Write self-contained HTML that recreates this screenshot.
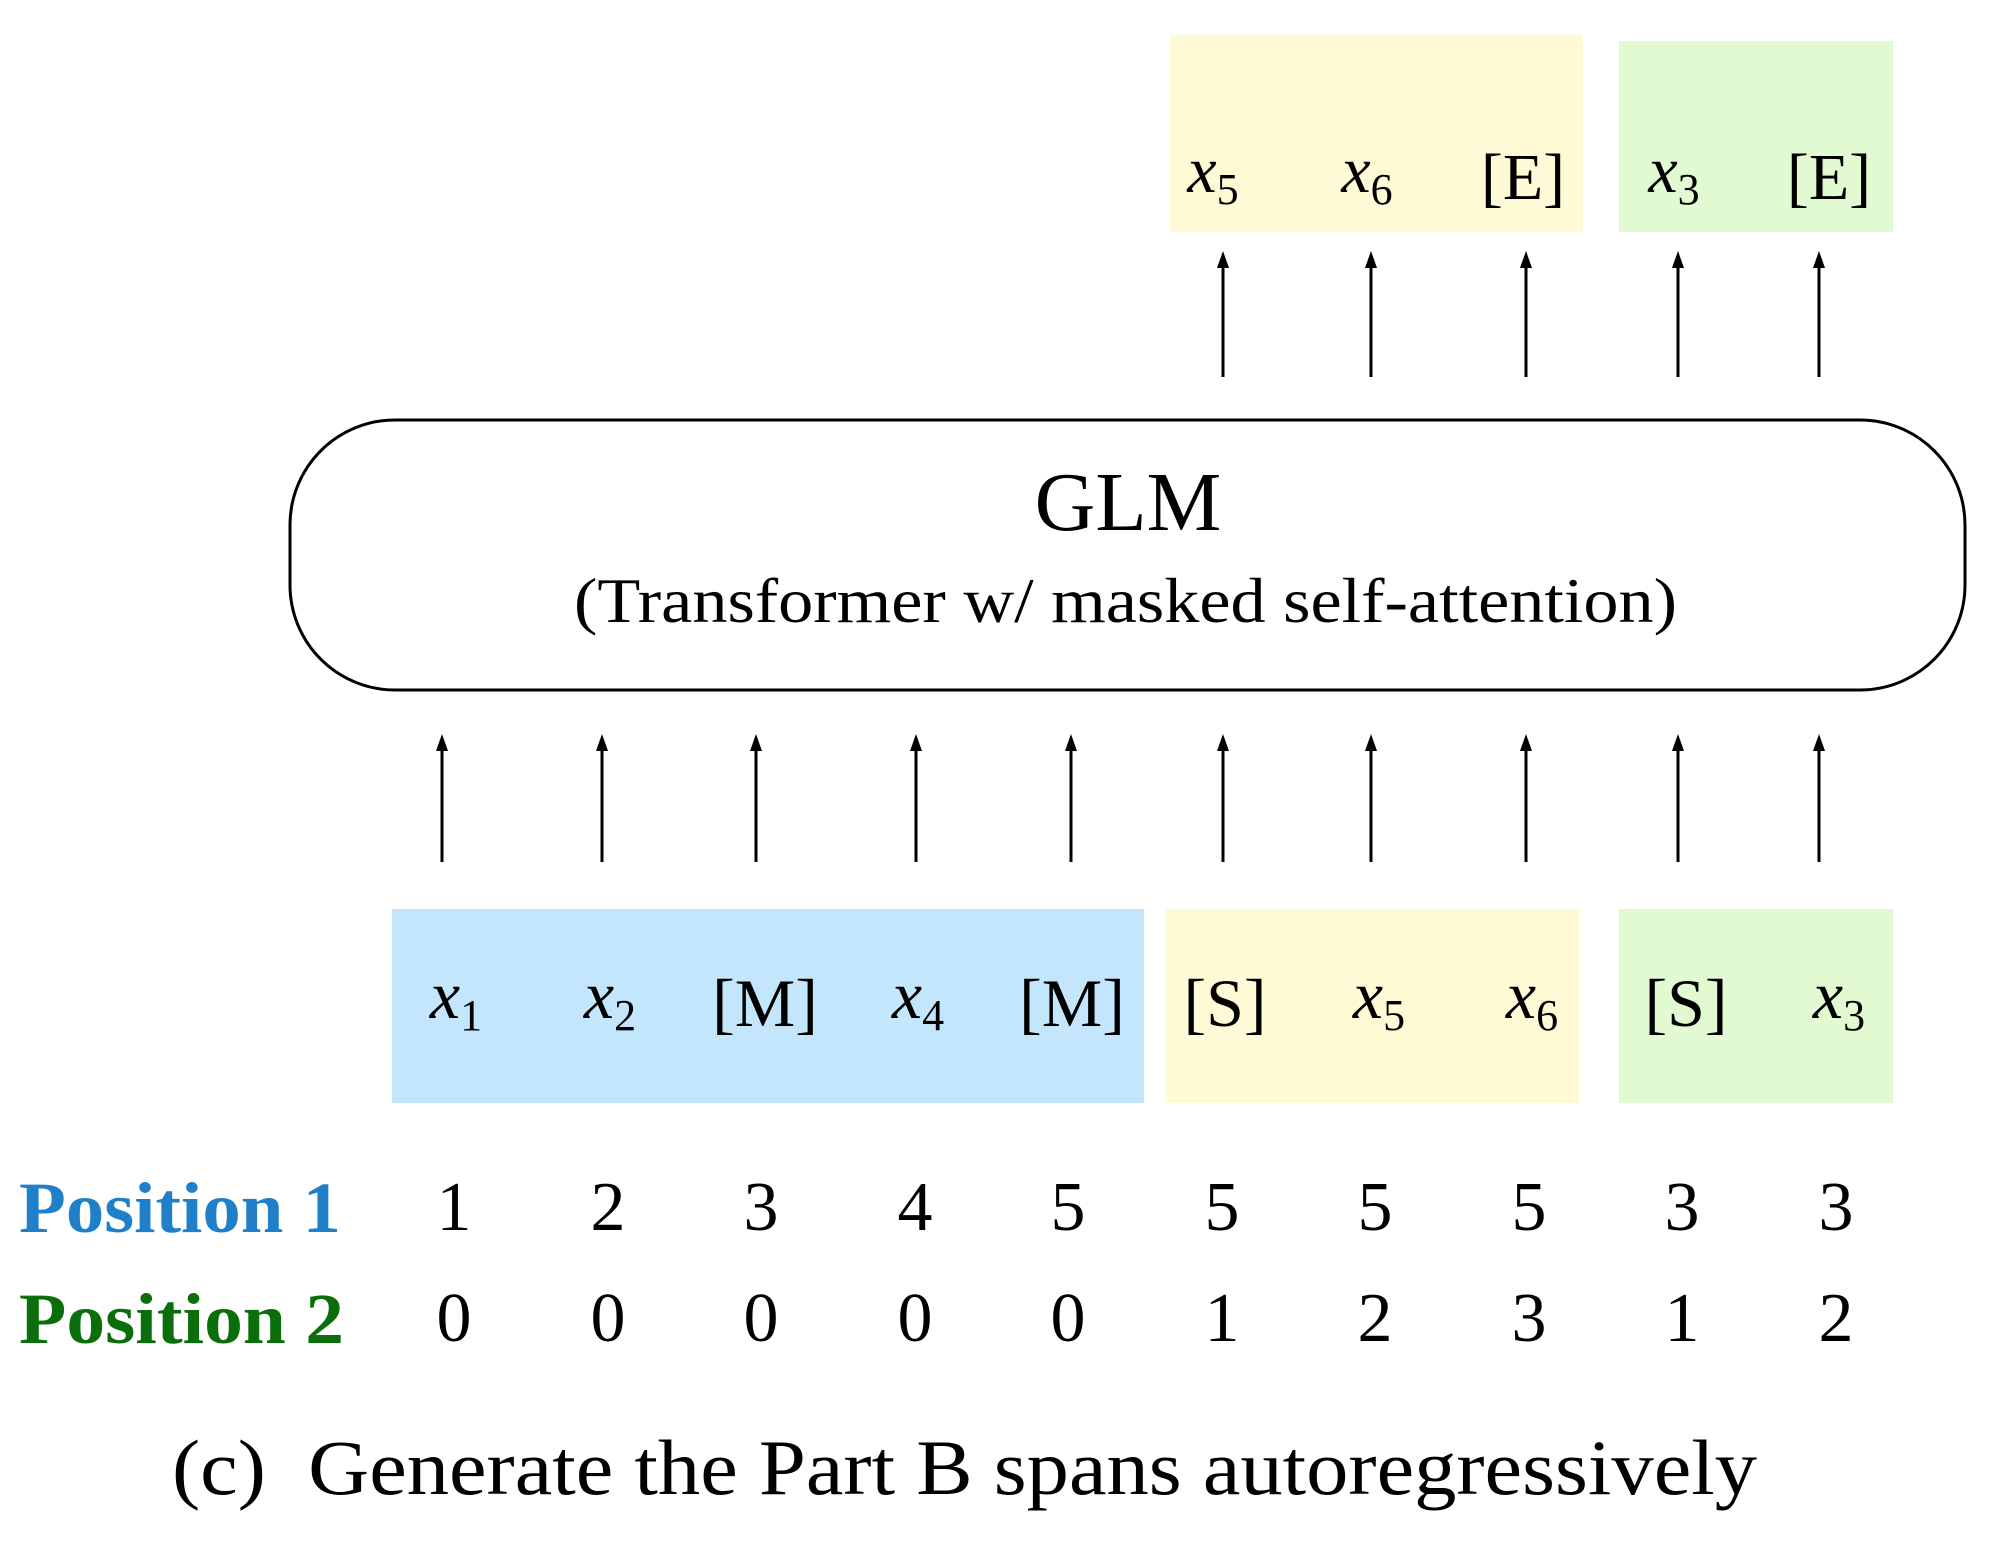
<!DOCTYPE html>
<html><head><meta charset="utf-8"><style>
html,body{margin:0;padding:0;background:#fff;}
svg{display:block;}
text{font-family:"Liberation Serif",serif;}
.m{font-style:italic;}
</style></head><body>
<svg width="2000" height="1558" viewBox="0 0 2000 1558" xmlns="http://www.w3.org/2000/svg">
<!-- top boxes -->
<rect x="1170" y="35" width="413" height="197" fill="#fffad6"/>
<rect x="1619" y="41" width="274" height="191" fill="#e2fad2"/>
<g font-size="66" text-anchor="middle">
<text x="1213" y="192" class="m">x<tspan font-style="normal" font-size="44" dy="12">5</tspan></text>
<text x="1367" y="192" class="m">x<tspan font-style="normal" font-size="44" dy="12">6</tspan></text>
<text x="1523" y="199">[E]</text>
<text x="1674" y="192" class="m">x<tspan font-style="normal" font-size="44" dy="12">3</tspan></text>
<text x="1829" y="199">[E]</text>
</g>
<g stroke="#000" stroke-width="3">
<line x1="1223" y1="377" x2="1223" y2="262"/>
<line x1="1371" y1="377" x2="1371" y2="262"/>
<line x1="1526" y1="377" x2="1526" y2="262"/>
<line x1="1678" y1="377" x2="1678" y2="262"/>
<line x1="1819" y1="377" x2="1819" y2="262"/>
<line x1="442" y1="862" x2="442" y2="745"/>
<line x1="602" y1="862" x2="602" y2="745"/>
<line x1="756" y1="862" x2="756" y2="745"/>
<line x1="916" y1="862" x2="916" y2="745"/>
<line x1="1071" y1="862" x2="1071" y2="745"/>
<line x1="1223" y1="862" x2="1223" y2="745"/>
<line x1="1371" y1="862" x2="1371" y2="745"/>
<line x1="1526" y1="862" x2="1526" y2="745"/>
<line x1="1678" y1="862" x2="1678" y2="745"/>
<line x1="1819" y1="862" x2="1819" y2="745"/>
</g>
<g fill="#000">
<polygon points="1223,251 1217,268 1229,268"/>
<polygon points="1371,251 1365,268 1377,268"/>
<polygon points="1526,251 1520,268 1532,268"/>
<polygon points="1678,251 1672,268 1684,268"/>
<polygon points="1819,251 1813,268 1825,268"/>
<polygon points="442,734 436,751 448,751"/>
<polygon points="602,734 596,751 608,751"/>
<polygon points="756,734 750,751 762,751"/>
<polygon points="916,734 910,751 922,751"/>
<polygon points="1071,734 1065,751 1077,751"/>
<polygon points="1223,734 1217,751 1229,751"/>
<polygon points="1371,734 1365,751 1377,751"/>
<polygon points="1526,734 1520,751 1532,751"/>
<polygon points="1678,734 1672,751 1684,751"/>
<polygon points="1819,734 1813,751 1825,751"/>
</g>
<rect x="290" y="420" width="1675" height="270" rx="105" ry="105" fill="#fff" stroke="#000" stroke-width="3"/>
<text x="1128" y="530" font-size="84" text-anchor="middle">GLM</text>
<text x="574" y="622" font-size="63" textLength="1103" lengthAdjust="spacingAndGlyphs">(Transformer w/ masked self-attention)</text>
<rect x="392" y="909" width="752" height="194" fill="#c4e6fc"/>
<rect x="1166" y="909" width="413" height="194" fill="#fffad6"/>
<rect x="1619" y="909" width="274" height="194" fill="#e2fad2"/>
<g font-size="68" text-anchor="middle">
<text x="456" y="1018" class="m">x<tspan font-style="normal" font-size="44" dy="12">1</tspan></text>
<text x="610" y="1018" class="m">x<tspan font-style="normal" font-size="44" dy="12">2</tspan></text>
<text x="765" y="1026">[M]</text>
<text x="918" y="1018" class="m">x<tspan font-style="normal" font-size="44" dy="12">4</tspan></text>
<text x="1072" y="1026">[M]</text>
<text x="1225" y="1026">[S]</text>
<text x="1379" y="1018" class="m">x<tspan font-style="normal" font-size="44" dy="12">5</tspan></text>
<text x="1532" y="1018" class="m">x<tspan font-style="normal" font-size="44" dy="12">6</tspan></text>
<text x="1686" y="1026">[S]</text>
<text x="1839" y="1018" class="m">x<tspan font-style="normal" font-size="44" dy="12">3</tspan></text>
</g>
<text x="19" y="1232" font-size="72" font-weight="bold" fill="#1f7fc8" textLength="322" lengthAdjust="spacingAndGlyphs">Position 1</text>
<text x="19" y="1343" font-size="72" font-weight="bold" fill="#0a6e0a" textLength="325" lengthAdjust="spacingAndGlyphs">Position 2</text>
<g font-size="70" text-anchor="middle">
<text x="454" y="1230">1</text><text x="608" y="1230">2</text><text x="761" y="1230">3</text><text x="915" y="1230">4</text><text x="1068" y="1230">5</text><text x="1222" y="1230">5</text><text x="1375" y="1230">5</text><text x="1529" y="1230">5</text><text x="1682" y="1230">3</text><text x="1836" y="1230">3</text>
<text x="454" y="1341">0</text><text x="608" y="1341">0</text><text x="761" y="1341">0</text><text x="915" y="1341">0</text><text x="1068" y="1341">0</text><text x="1222" y="1341">1</text><text x="1375" y="1341">2</text><text x="1529" y="1341">3</text><text x="1682" y="1341">1</text><text x="1836" y="1341">2</text>
</g>
<text x="172" y="1494" font-size="78" textLength="1585" lengthAdjust="spacingAndGlyphs" xml:space="preserve">(c)  Generate the Part B spans autoregressively</text>
</svg>
</body></html>
